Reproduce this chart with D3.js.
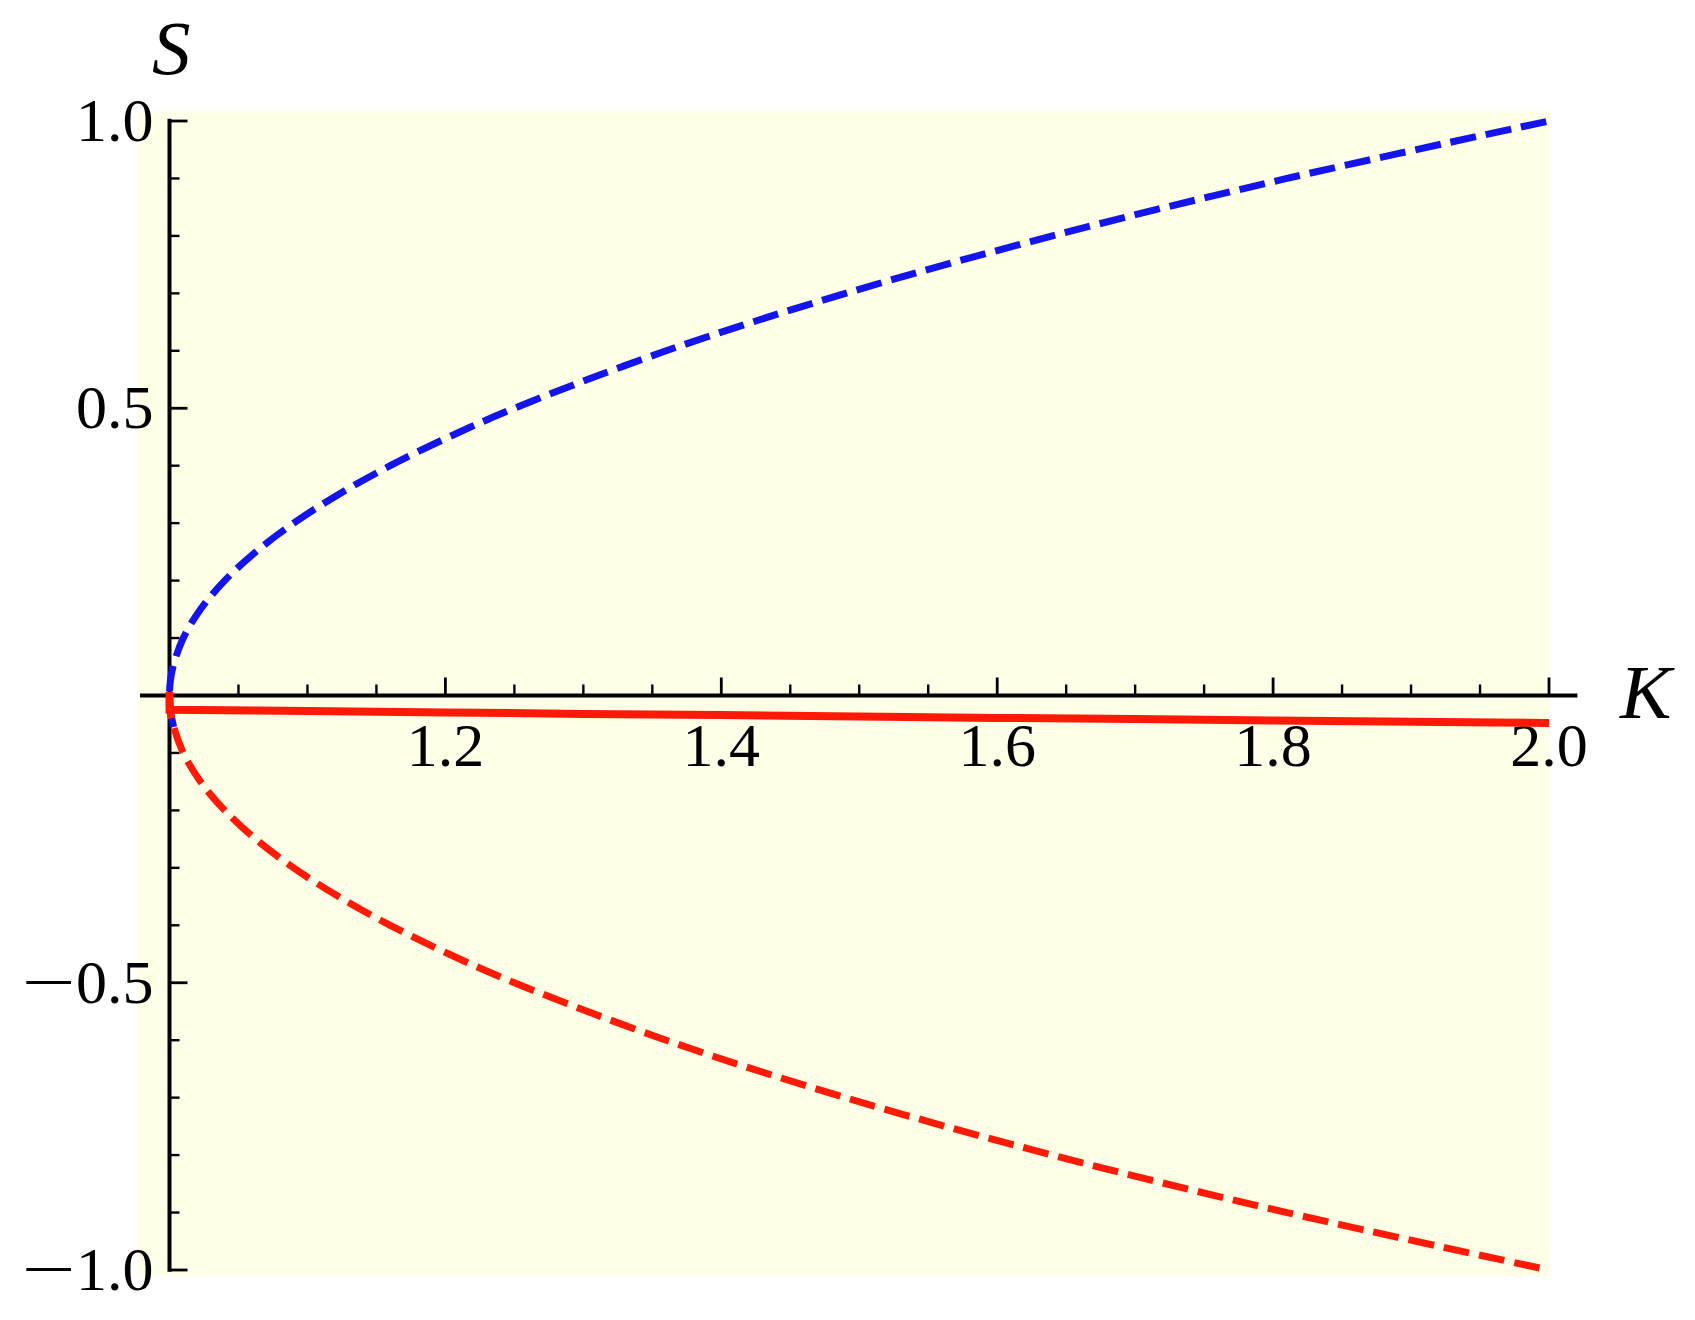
<!DOCTYPE html>
<html>
<head>
<meta charset="utf-8">
<script src="https://cdn.jsdelivr.net/npm/d3@7"></script>
<style>
  html, body { margin: 0; padding: 0; background: #fff; }
</style>
</head>
<body>
<svg id="chart" width="1695" height="1320"></svg>
<script>
// upper branch (blue dashed)
const blueK = [1.003, 1.0006, 1.0, 1.0006, 1.0025, 1.01, 1.0225, 1.04, 1.0625, 1.09, 1.1225, 1.16, 1.2025, 1.25, 1.36, 1.49, 1.64, 1.81, 2.0]
const blueS = [-0.055, -0.025, 0, 0.025, 0.05, 0.1, 0.15, 0.2, 0.25, 0.3, 0.35, 0.4, 0.45, 0.5, 0.6, 0.7, 0.8, 0.9, 1.0]
// lower branch (red dashed)
const redK = [1.0, 1.0006, 1.0025, 1.01, 1.0225, 1.04, 1.0625, 1.09, 1.1225, 1.16, 1.2025, 1.25, 1.36, 1.49, 1.64, 1.81, 2.0]
const redS = [0.005, -0.025, -0.05, -0.1, -0.15, -0.2, -0.25, -0.3, -0.35, -0.4, -0.45, -0.5, -0.6, -0.7, -0.8, -0.9, -1.0]
// solid red, nearly flat just under the axis
const solidK = [1.0, 1.0, 1.1, 1.2, 1.3, 1.4, 1.5, 1.6, 1.7, 1.8, 1.9, 2.0]
const solidS = [0.006, -0.025, -0.027, -0.0295, -0.032, -0.034, -0.0365, -0.039, -0.041, -0.0435, -0.0455, -0.048]

const xMajor = [1.2, 1.4, 1.6, 1.8, 2.0]
const xMinor = [1.05, 1.1, 1.15, 1.25, 1.3, 1.35, 1.45, 1.5, 1.55, 1.65, 1.7, 1.75, 1.85, 1.9, 1.95]
const yMajor = [-1.0, -0.5, 0.5, 1.0]
const yMinor = [-0.9, -0.8, -0.7, -0.6, -0.4, -0.3, -0.2, -0.1, 0.1, 0.2, 0.3, 0.4, 0.6, 0.7, 0.8, 0.9]
const xLabels = ['1.2', '1.4', '1.6', '1.8', '2.0']
const yLabels = ['1.0', '0.5', '0.5', '1.0']
const yNegative = [true, true, false, false]

const svg = d3.select('#chart')
const x = d3.scaleLinear().domain([1, 2]).range([169.5, 1549])
const y = d3.scaleLinear().domain([-1, 1]).range([1270, 121])

const bg = '#fffee6',
  blue = '#1414ee',
  red = '#ff1a08',
  serif = '"Liberation Serif", "Times New Roman", Times, serif',
  font = 62

// plot background
svg.append('rect')
  .attr('x', x(0.9764))
  .attr('y', y(1.0175))
  .attr('width', x(2.0005) - x(0.9764))
  .attr('height', y(-1.0104) - y(1.0175))
  .attr('fill', bg)

// axes
const axes = svg.append('g').attr('stroke', '#000')
axes.append('line')
  .attr('x1', x(0.9786)).attr('x2', x(2.0206))
  .attr('y1', y(0)).attr('y2', y(0))
  .attr('stroke-width', 4)
axes.append('line')
  .attr('x1', x(1)).attr('x2', x(1))
  .attr('y1', y(1.004)).attr('y2', y(-1.003))
  .attr('stroke-width', 4)

axes.selectAll('.xmaj').data(xMajor).join('line')
  .attr('x1', d => x(d)).attr('x2', d => x(d))
  .attr('y1', y(0)).attr('y2', y(0) - 18)
  .attr('stroke-width', 2.8)
axes.selectAll('.xmin').data(xMinor).join('line')
  .attr('x1', d => x(d)).attr('x2', d => x(d))
  .attr('y1', y(0)).attr('y2', y(0) - 11)
  .attr('stroke-width', 2.4)
axes.selectAll('.ymaj').data(yMajor).join('line')
  .attr('x1', x(1)).attr('x2', x(1) + 18)
  .attr('y1', d => y(d)).attr('y2', d => y(d))
  .attr('stroke-width', 2.8)
axes.selectAll('.ymin').data(yMinor).join('line')
  .attr('x1', x(1)).attr('x2', x(1) + 10)
  .attr('y1', d => y(d)).attr('y2', d => y(d))
  .attr('stroke-width', 2.4)

// tick labels
svg.append('g').selectAll('text').data(xMajor).join('text')
  .attr('x', d => x(d))
  .attr('y', y(0) + 70.5)
  .attr('text-anchor', 'middle')
  .attr('font-family', serif)
  .attr('font-size', font)
  .text((d, i) => xLabels[i])
const yl = svg.append('g').selectAll('g').data(yMajor).join('g')
yl.append('text')
  .attr('x', x(1) - 16)
  .attr('y', d => y(d) + 20)
  .attr('text-anchor', 'end')
  .attr('font-family', serif)
  .attr('font-size', font)
  .text((d, i) => yLabels[i])
// the minus sign sits well apart from the digits, and is long
yl.filter((d, i) => yNegative[i]).append('text')
  .attr('transform', d => `translate(${x(1) - 148},${y(d) + 20}) scale(1.55,1)`)
  .attr('font-family', serif)
  .attr('font-size', font)
  .text('\u2212')

// axis titles
svg.append('text')
  .attr('x', 152).attr('y', 74)
  .attr('font-family', serif)
  .attr('font-size', 77).attr('font-style', 'italic')
  .text('S')
svg.append('text')
  .attr('x', 1620).attr('y', 718)
  .attr('font-family', serif)
  .attr('font-size', 77).attr('font-style', 'italic')
  .text('K')

// curves
const smooth = d3.line()
  .x(d => x(d[0]))
  .y(d => y(d[1]))
  .curve(d3.curveCatmullRom.alpha(0.5))
const straight = d3.line()
  .x(d => x(d[0]))
  .y(d => y(d[1]))

const series = [
  {K: blueK, S: blueS, color: blue, width: 7, dash: '26,10', line: smooth},
  {K: redK, S: redS, color: red, width: 7, dash: '26,10', line: smooth},
  {K: solidK, S: solidS, color: red, width: 8, dash: null, line: straight}
]
const curves = svg.append('g').attr('fill', 'none')
series.forEach(s => {
  const pts = s.K.map((k, i) => [k, s.S[i]])
  curves.append('path')
    .attr('d', s.line(pts))
    .attr('stroke', s.color)
    .attr('stroke-width', s.width)
    .attr('stroke-dasharray', s.dash)
})
</script>
</body>
</html>
